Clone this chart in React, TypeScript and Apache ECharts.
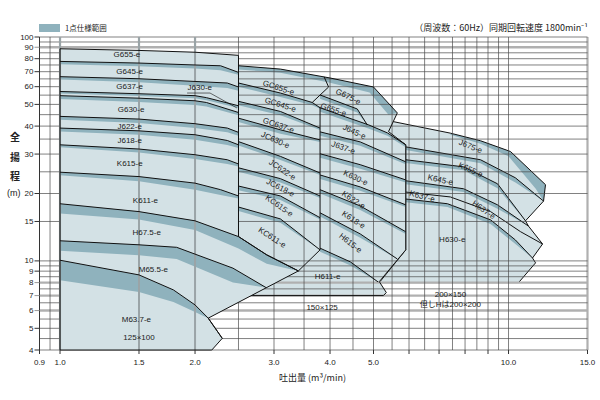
import React, { useEffect, useRef } from "react";
import * as echarts from "echarts";

type P = [number, number];

// ---------- axes ----------
const X_MIN = 0.9;
const X_MAX = 15;
const Y_MIN = 4;
const Y_MAX = 100;
const xTickValues = [0.9, 1, 1.5, 2, 3, 4, 5, 10, 15];
const xTickLabels = ["0.9", "1.0", "1.5", "2.0", "3.0", "4.0", "5.0", "10.0", "15.0"];
const xMinorTicks = [6, 7, 8, 9];
const xGridLines = [0.95, 2.5, 3, 3.5, 4, 4.5, 5, 5.5, 6, 6.5, 7, 7.5, 8, 8.5, 9, 9.5, 10];
const xGrayLines = [1, 1.5, 2, 15];
const yTickValues = [100, 90, 80, 70, 60, 50, 40, 30, 20, 15, 10, 9, 8, 7, 6, 5, 4];
const yGridLines = [100, 95, 85, 80, 75, 70, 65, 60, 55, 50, 45, 40, 35, 30, 25, 20, 15, 10, 9.5, 9, 8.5, 7.5, 6.5, 5.5, 5, 4.5, 4];
const yGrayLines = [90, 8, 7, 6];

// ---------- 125x100 family (A) ----------
const outlineA: P[] = [[1, 4], [1, 88.6], [1.5, 87.1], [2, 85.5], [2.5, 82.8], [2.5, 12.84], [2.89, 10.64], [3.4, 9.02], [2.14, 5.55], [2.3, 4.51], [2.18, 4]];
const aG645: P[] = [[1, 77.8], [1.5, 76.5], [2, 75.0], [2.28, 74.4], [2.5, 69.5]];
const aG637: P[] = [[1, 66.5], [1.5, 65.1], [2, 63.3], [2.36, 62.3], [2.5, 59.8]];
const aJ630: P[] = [[1, 57.1], [1.5, 55.8], [2, 54.7], [2.12, 53.6], [2.5, 49.3]];
const aG630: P[] = [[1, 54.7], [1.5, 53.3], [2, 51.9], [2.12, 51.0], [2.5, 46.0]];
const aJ622: P[] = [[1, 44.2], [1.5, 43.0], [2, 41.0], [2.36, 39.2], [2.5, 37.5]];
const aJ618: P[] = [[1, 39.2], [1.5, 38.1], [2, 36.6], [2.36, 34.5], [2.5, 33.0]];
const aK615: P[] = [[1, 33.0], [1.5, 31.6], [2, 29.8], [2.36, 28.3], [2.5, 27.1]];
const aK611: P[] = [[1, 24.9], [1.5, 23.8], [2, 22.25], [2.28, 20.8], [2.5, 19.5]];
const aH675: P[] = [[1, 18.0], [1.5, 16.6], [2, 15.1], [2.5, 12.84], [2.89, 10.64], [3.4, 9.02]];
const aM655: P[] = [[1, 12.3], [1.5, 11.8], [1.82, 11.5], [2.43, 9.28], [2.88, 7.6]];
const aM637: P[] = [[1, 10.07], [1.5, 8.66], [1.79, 7.42], [2, 6.36], [2.14, 5.55], [2.3, 4.51]];
const aG645Low: P[] = [[1, 75.6], [1.5, 74.0], [2, 72.3], [2.28, 71.0], [2.5, 67.8]];
const aG637Low: P[] = [[1, 64.6], [1.5, 62.8], [2, 60.6], [2.36, 59.2], [2.5, 57.6]];
const aJ630Low: P[] = [[1, 55.9], [1.5, 54.5], [2, 53.2], [2.12, 52.2], [2.5, 48.2]];
const aG630Low: P[] = [[1, 52.8], [1.5, 51.3], [2, 49.7], [2.12, 48.9], [2.5, 44.7]];
const aJ622Low: P[] = [[1, 42.7], [1.5, 41.3], [2, 39.2], [2.36, 37.5], [2.5, 36.2]];
const aJ618Low: P[] = [[1, 37.8], [1.5, 36.6], [2, 34.8], [2.36, 32.9], [2.5, 31.9]];
const aK615Low: P[] = [[1, 32.2], [1.5, 30.5], [2, 28.5], [2.36, 27.1], [2.5, 26.4]];
const aK611Low: P[] = [[1, 24.1], [1.5, 22.7], [2, 20.8], [2.28, 19.7], [2.5, 19.0]];
const aH675Low: P[] = [[1, 16.3], [1.5, 15.3], [2, 13.75], [2.5, 11.35], [2.89, 9.7], [3.4, 9.02]];
const aM655Low: P[] = [[1, 11.1], [1.5, 10.6], [1.82, 10.2], [2.43, 8.0], [2.88, 7.6]];
const aM637Low: P[] = [[1, 8.2], [1.5, 7.27], [1.79, 6.56], [2, 5.92], [2.14, 5.55]];
const j630Leader: P[] = [[1.92, 56.2], [2.16, 56.2], [2.48, 48.2]];

// ---------- 150x125 family (B) ----------
const outlineB: P[] = [[2.5, 74.4], [3.1, 71.9], [4.0, 65.6], [5.0, 59.8], [5.65, 45.8], [5.4, 37.8], [5.9, 33.0], [5.9, 11.2], [5.15, 8.08], [5.34, 7.22], [5.26, 7.0], [2.5, 7.0]];
const bGC645: P[] = [[2.5, 62.3], [3.1, 56.2], [3.65, 51.0], [3.8, 48.3]];
const bGC637: P[] = [[2.5, 51.6], [3.1, 46.5], [3.8, 39.2]];
const bJC630: P[] = [[2.5, 43.4], [3.1, 38.5], [3.8, 34.7]];
const bJC622: P[] = [[2.5, 34.1], [3.1, 29.3], [3.8, 24.7]];
const bJC618: P[] = [[2.5, 26.05], [3.1, 23.3], [3.8, 19.5]];
const bKC615: P[] = [[2.5, 21.6], [3.1, 19.5], [3.8, 15.6]];
const bKC611: P[] = [[2.5, 17.4], [3.1, 15.4], [3.8, 11.2]];
const bGC655Nose: P[] = [[3.65, 51.0], [3.97, 59.8], [3.88, 66.4]];
const bDivider: P[] = [[3.8, 48.8], [3.8, 11.2], [3.4, 9.02]];
const bG675: P[] = [[3.8, 55.1], [4.6, 47.7], [4.84, 40.55]];
const bJ645: P[] = [[3.8, 48.3], [4.33, 44.0], [4.87, 40.55], [5.37, 37.3], [5.9, 33.0]];
const bJ637: P[] = [[3.8, 37.7], [4.67, 34.0], [5.9, 27.7]];
const bK630: P[] = [[3.8, 30.1], [4.67, 26.9], [5.9, 23.0]];
const bK622: P[] = [[3.8, 24.2], [4.67, 21.4], [5.9, 17.8]];
const bK618: P[] = [[3.8, 20.8], [4.67, 17.6], [5.9, 13.5]];
const bH615: P[] = [[3.8, 16.4], [4.67, 13.2], [5.65, 10.2]];
const bH611: P[] = [[3.8, 11.4], [4.44, 9.9], [5.12, 8.05]];
const bTopUp: P[] = [[2.5, 74.4], [3.1, 71.9], [4.0, 65.6], [5.0, 59.8], [5.65, 45.8]];
const bTopLow: P[] = [[2.5, 71.6], [3.1, 69.2], [4.0, 62.5], [4.9, 56.5], [5.4, 44.9]];
const bGC645Low: P[] = [[2.5, 59.9], [3.1, 54.0], [3.65, 49.6], [3.8, 47.8]];
const bGC637Low: P[] = [[2.5, 49.6], [3.1, 44.7], [3.8, 38.4]];
const bJC630Low: P[] = [[2.5, 41.7], [3.1, 37.0], [3.8, 34.0]];
const bJC622Low: P[] = [[2.5, 32.8], [3.1, 28.2], [3.8, 24.2]];
const bJC618Low: P[] = [[2.5, 25.0], [3.1, 22.4], [3.8, 19.1]];
const bKC615Low: P[] = [[2.5, 20.7], [3.1, 18.7], [3.8, 15.3]];
const bKC611Low: P[] = [[2.5, 16.7], [3.1, 14.8], [3.8, 11.2]];
const bG675Low: P[] = [[3.8, 53.0], [4.6, 46.0], [4.84, 40.55]];
const bJ645Low: P[] = [[3.8, 46.4], [4.87, 39.0], [5.37, 36.2], [5.9, 32.2]];
const bJ637Low: P[] = [[3.8, 36.2], [4.67, 32.7], [5.9, 27.0]];
const bK630Low: P[] = [[3.8, 28.9], [4.67, 25.8], [5.9, 22.4]];
const bK622Low: P[] = [[3.8, 23.2], [4.67, 20.6], [5.9, 17.4]];
const bK618Low: P[] = [[3.8, 20.0], [4.67, 16.9], [5.9, 13.2]];
const bH615Low: P[] = [[3.8, 15.8], [4.67, 12.7], [5.65, 10.2]];
const bH611Low: P[] = [[3.8, 11.0], [4.44, 9.55], [5.12, 8.05]];

// ---------- 200x150 family (C) ----------
const outlineC: P[] = [[5.15, 8.0], [5.9, 11.2], [5.9, 33.0], [5.37, 37.3], [5.4, 42.3], [7.42, 37.2], [8.66, 34.4], [10.1, 30.8], [12.09, 21.9], [11.97, 18.5], [10.91, 15.1], [11.08, 14.3], [11.91, 11.9], [11.31, 10.3], [11.49, 9.8], [10.53, 8.0]];
const cJ675: P[] = [[5.9, 32.3], [8.66, 28.3], [10.36, 23.5], [11.97, 18.5]];
const cK655: P[] = [[5.9, 28.3], [7.94, 26.3], [9.45, 22.1], [10.91, 15.1]];
const cK645: P[] = [[5.9, 22.8], [7.94, 21.0], [9.45, 17.8], [11.08, 14.3]];
const cK637: P[] = [[5.9, 20.3], [7.42, 19.3], [9.12, 16.6], [10.64, 13.5], [11.91, 11.9]];
const cH637: P[] = [[5.9, 18.9], [7.31, 18.0], [9.12, 15.25], [10.36, 12.4], [11.31, 10.3]];
const cTopUp: P[] = [[7.42, 37.2], [8.66, 34.4], [10.1, 30.8], [12.09, 21.9], [11.97, 18.5]];
const cTopLow: P[] = [[7.42, 36.6], [8.66, 33.4], [10.0, 29.3], [11.5, 21.0], [11.97, 18.5]];
const cJ675Low: P[] = [[5.9, 31.3], [8.66, 27.3], [10.36, 22.4], [11.97, 18.5]];
const cK655Low: P[] = [[5.9, 27.4], [7.94, 25.4], [9.45, 21.1], [10.91, 15.1]];
const cK645Low: P[] = [[5.9, 22.0], [7.94, 20.3], [9.45, 17.1], [11.08, 14.3]];
const cH637Low: P[] = [[5.9, 18.3], [7.31, 17.4], [9.12, 14.6], [10.36, 11.9], [11.31, 10.3]];

// ---------- labels: [text, x, y, rotation deg] ----------
const pumpLabels: [string, number, number, number][] = [
  ["G655-e", 1.41, 83.3, 0], ["G645-e", 1.43, 70.2, 0], ["G637-e", 1.43, 60.1, 0],
  ["J630-e", 2.05, 59.2, 0], ["G630-e", 1.44, 47.3, 0], ["J622-e", 1.43, 39.85, 0],
  ["J618-e", 1.43, 34.4, 0], ["K615-e", 1.43, 27.3, 0], ["K611-e", 1.55, 18.7, 0],
  ["H67.5-e", 1.56, 13.4, 0], ["M65.5-e", 1.615, 9.2, 0], ["M63.7-e", 1.48, 5.45, 0],
  ["GC655-e", 3.07, 59.3, -18], ["GC645-e", 3.1, 49.8, -18], ["GC637-e", 3.07, 40.3, -19],
  ["JC630-e", 3.02, 34.6, -24], ["JC622-e", 3.13, 25.5, -34], ["JC618-e", 3.1, 21.2, -27],
  ["KC615-e", 3.08, 17.6, -35], ["KC611-e", 2.97, 12.7, -33],
  ["G675-e", 4.39, 54.1, -26], ["G655-e", 4.07, 47.3, -18], ["J645-e", 4.53, 37.7, -25],
  ["J637-e", 4.28, 32.0, -20], ["K630-e", 4.56, 23.5, -25], ["K622-e", 4.51, 18.7, -33],
  ["K618-e", 4.51, 15.25, -33], ["H615-e", 4.44, 12.0, -38], ["H611-e", 3.95, 8.48, 0],
  ["J675-e", 8.23, 32.4, -22], ["K655-e", 8.23, 25.5, -24], ["K645-e", 7.05, 23.0, -13],
  ["K637-e", 6.42, 19.4, -15], ["H637-e", 8.8, 16.9, -35], ["H630-e", 7.49, 12.4, 0],
];
const sizeLabels: [string, number, number][] = [
  ["125×100", 1.5, 4.56], ["150×125", 3.84, 6.21], ["200×150", 7.42, 7.05], ["但しHは200×200", 7.42, 6.36],
];

const FILL = "#d3e1e5";
const BAND = "#8fb2bd";
const INK = "#111";
const GRID = "#4a4a4a";
const GRAY = "#b0b0b0";
const FONT = '"Liberation Sans", "Noto Sans CJK JP", sans-serif';
const CJK = '"Noto Sans CJK JP", sans-serif';

export default function App() {
  const ref = useRef<HTMLDivElement>(null);
  useEffect(() => {
    const chart = echarts.init(ref.current!, null, { renderer: "svg" });
    const c = (api: any, p: P): number[] => api.coord(p);
    const polygon = (api: any, arr: P[], style: any) => ({ type: "polygon", shape: { points: arr.map((p) => c(api, p)) }, style });
    const polyline = (api: any, arr: P[], stroke = INK, lw = 1) => ({
      type: "polyline", shape: { points: arr.map((p) => c(api, p)) }, style: { fill: "none", stroke, lineWidth: lw },
    });
    const seg = (x1: number, y1: number, x2: number, y2: number, stroke: string, lw: number) => ({
      type: "line", shape: { x1, y1, x2, y2 }, style: { stroke, lineWidth: lw, fill: "none" },
    });
    const band = (api: any, up: P[], low: P[]) => polygon(api, up.concat(low.slice().reverse()), { fill: BAND, stroke: "none" });
    const txt = (x: number, y: number, s: string, size: number, rot = 0, align = "center", font = FONT, weight = "normal") => ({
      type: "text", x, y, rotation: (rot * Math.PI) / 180,
      style: { text: s, fill: "#1a1a1a", font: `${weight} ${size}px ${font}`, align, verticalAlign: "middle" },
    });
    const layer = (z: number, build: (api: any) => any[]) => ({
      type: "custom", coordinateSystem: "cartesian2d", silent: true, z, clip: false, data: [[1, 10]],
      renderItem: (_p: any, api: any) => ({ type: "group", children: build(api) }),
    });

    const bandsA: [P[], P[]][] = [[aG645, aG645Low], [aG637, aG637Low], [aJ630, aJ630Low], [aG630, aG630Low], [aJ622, aJ622Low], [aJ618, aJ618Low], [aK615, aK615Low], [aK611, aK611Low], [aH675, aH675Low], [aM655, aM655Low], [aM637, aM637Low]];
    const bandsB: [P[], P[]][] = [[bTopUp, bTopLow], [bGC645, bGC645Low], [bGC637, bGC637Low], [bJC630, bJC630Low], [bJC622, bJC622Low], [bJC618, bJC618Low], [bKC615, bKC615Low], [bKC611, bKC611Low], [bG675, bG675Low], [bJ645, bJ645Low], [bJ637, bJ637Low], [bK630, bK630Low], [bK622, bK622Low], [bK618, bK618Low], [bH615, bH615Low], [bH611, bH611Low]];
    const bandsC: [P[], P[]][] = [[cTopUp, cTopLow], [cJ675, cJ675Low], [cK655, cK655Low], [cK645, cK645Low], [cH637, cH637Low]];
    const curvesA = [aG645, aG637, aJ630, aG630, aJ622, aJ618, aK615, aK611, aH675, aM655, aM637];
    const curvesB = [bGC645, bGC637, bJC630, bJC622, bJC618, bKC615, bKC611, bGC655Nose, bDivider, bG675, bJ645, bJ637, bK630, bK622, bK618, bH615, bH611];
    const curvesC = [cJ675, cK655, cK645, cK637, cH637];

    const layerC = (api: any) => [
      polygon(api, outlineC, { fill: FILL, stroke: "none" }),
      ...bandsC.map(([u, l]) => band(api, u, l)),
      polygon(api, outlineC, { fill: "none", stroke: INK, lineWidth: 1 }),
      ...curvesC.map((cv) => polyline(api, cv)),
    ];
    const layerBFill = (api: any) => [
      polygon(api, outlineB, { fill: FILL, stroke: "none" }),
      ...bandsB.map(([u, l]) => band(api, u, l)),
    ];
    const layerGrid = (api: any) => {
      const out: any[] = [];
      yGrayLines.forEach((v) => { const a = c(api, [X_MIN, v]); const b = c(api, [X_MAX, v]); out.push(seg(a[0], a[1], b[0], b[1], GRAY, 2.4)); });
      xGrayLines.forEach((v) => { const a = c(api, [v, Y_MIN]); const b = c(api, [v, Y_MAX]); out.push(seg(a[0], a[1], b[0], b[1], GRAY, 2.2)); });
      yGridLines.forEach((v) => { const a = c(api, [X_MIN, v]); const b = c(api, [X_MAX, v]); out.push(seg(a[0], a[1], b[0], b[1], GRID, 0.7)); });
      xGridLines.forEach((v) => { const a = c(api, [v, Y_MIN]); const b = c(api, [v, Y_MAX]); out.push(seg(a[0], a[1], b[0], b[1], GRID, 0.7)); });
      return out;
    };
    const layerBLines = (api: any) => [
      polygon(api, outlineB, { fill: "none", stroke: INK, lineWidth: 1 }),
      ...curvesB.map((cv) => polyline(api, cv)),
    ];
    const layerA = (api: any) => {
      const out: any[] = [polygon(api, outlineA, { fill: FILL, stroke: "none" }), ...bandsA.map(([u, l]) => band(api, u, l))];
      [1, 1.5, 2].forEach((v) => { const a = c(api, [v, Y_MIN]); const b = c(api, [v, Y_MAX]); out.push(seg(a[0], a[1], b[0], b[1], "#9aa4a7", 2)); });
      out.push(polygon(api, outlineA, { fill: "none", stroke: INK, lineWidth: 1 }));
      curvesA.forEach((cv) => out.push(polyline(api, cv)));
      out.push(polyline(api, j630Leader, INK, 0.6));
      return out;
    };
    const layerText = (api: any) => {
      const out: any[] = [];
      pumpLabels.forEach(([s, x, y, r]) => { const q = c(api, [x, y]); out.push(txt(q[0], q[1], s, 8, r)); });
      sizeLabels.forEach(([s, x, y]) => { const q = c(api, [x, y]); out.push(txt(q[0], q[1], s, 8, 0, "center", FONT)); });
      const lb = c(api, [X_MIN, Y_MIN]);
      const lt = c(api, [X_MIN, Y_MAX]);
      out.push(seg(lb[0], lb[1], lt[0], lt[1], "#333", 1));
      yTickValues.forEach((v) => {
        const q = c(api, [X_MIN, v]);
        out.push(seg(q[0] - 5, q[1], q[0], q[1], yGrayLines.includes(v) ? "#999" : "#333", 1));
        out.push(txt(q[0] - 6, q[1], String(v), 8, 0, "right"));
      });
      xTickValues.forEach((v, i) => {
        const q = c(api, [v, Y_MIN]);
        out.push(seg(q[0], q[1], q[0], q[1] + 4, "#333", 1));
        out.push(txt(q[0], q[1] + 12, xTickLabels[i], 8));
      });
      xMinorTicks.forEach((v) => { const q = c(api, [v, Y_MIN]); out.push(seg(q[0], q[1], q[0], q[1] + 4, "#333", 1)); });
      return out;
    };

    chart.setOption({
      animation: false,
      grid: { left: 39.5, right: 12.5, top: 37, bottom: 50 },
      xAxis: { type: "log", logBase: 10, min: X_MIN, max: X_MAX, axisLine: { show: false }, axisTick: { show: false }, axisLabel: { show: false }, splitLine: { show: false } },
      yAxis: { type: "log", logBase: 10, min: Y_MIN, max: Y_MAX, axisLine: { show: false }, axisTick: { show: false }, axisLabel: { show: false }, splitLine: { show: false } },
      series: [layer(1, layerC), layer(2, layerBFill), layer(3, layerGrid), layer(4, layerBLines), layer(5, layerA), layer(6, layerText)],
      graphic: [
        { type: "rect", left: 39, top: 24, shape: { width: 21, height: 8 }, style: { fill: BAND } },
        { type: "text", left: 65, top: 24, style: { text: "1点仕様範囲", font: `7.5px ${CJK}`, fill: "#222" } },
        { type: "text", right: 12, top: 23, style: { text: "（周波数：60Hz）同期回転速度 1800min⁻¹", font: `9px ${CJK}`, fill: "#222" } },
        { type: "text", left: 10, top: 131, style: { text: "全", font: `bold 10px ${CJK}`, fill: "#222" } },
        { type: "text", left: 10, top: 151, style: { text: "揚", font: `bold 10px ${CJK}`, fill: "#222" } },
        { type: "text", left: 10, top: 170, style: { text: "程", font: `bold 10px ${CJK}`, fill: "#222" } },
        { type: "text", left: 7, top: 188, style: { text: "(m)", font: `9px ${FONT}`, fill: "#222" } },
        { type: "text", left: 279, top: 373, style: { text: "吐出量 (m³/min)", font: `9px ${CJK}`, fill: "#222" } },
      ],
    });
    return () => chart.dispose();
  }, []);
  return <div ref={ref} style={{ position: "fixed", left: 0, top: 0, width: 600, height: 400, background: "#fff" }} />;
}
